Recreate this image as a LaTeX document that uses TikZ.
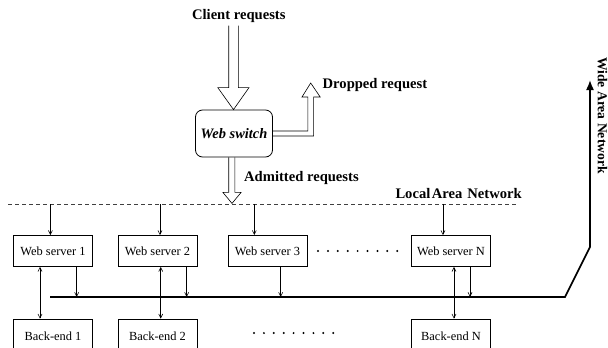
\documentclass[tikz,border=0pt]{standalone}
\usepackage{fontspec}
\setmainfont{Liberation Serif}
\usetikzlibrary{arrows.meta,calc}
\begin{document}
\begin{tikzpicture}[x=1pt,y=-1pt,
  box/.style={draw, line width=0.8pt, minimum width=79pt, minimum height=31pt, inner sep=0pt, font=\fontsize{12.4}{14}\selectfont},
  lbl/.style={font=\fontsize{14.6}{16}\selectfont\bfseries, inner sep=0pt},
  thinline/.style={line width=0.6pt},
  sarr/.style={thinline, -{Straight Barb[length=4pt,width=4pt]}},
  darr/.style={thinline, {Straight Barb[length=4pt,width=4pt]}-{Straight Barb[length=4pt,width=4pt]}},
  blk/.style={line width=0.6pt, line join=miter},
]
\useasboundingbox (0,0) rectangle (608,348);
\clip (0,0) rectangle (608,348);

% labels
\node[lbl] (client) at (238.8,16) {Client requests};
\node[lbl, anchor=west] (drop) at (322.5,85) {Dropped request};
\node[lbl, anchor=west] (adm) at (244,178) {Admitted requests};
\node[lbl, anchor=west] (lan) at (395.3,194) {Local\hspace{1.5pt}Area\hspace{5pt}Network};
\node[lbl, font=\fontsize{13.6}{16}\selectfont\bfseries, rotate=-90, anchor=west] (wanlbl) at (602.5,57) {Wide Area Network};

% web switch
\node[draw, rounded corners=7pt, line width=0.8pt, minimum width=77pt, minimum height=47pt, inner sep=0pt,
      font=\fontsize{14.4}{16}\selectfont\bfseries\itshape] (sw) at (234,133.5) {Web switch};

% client block arrow
\draw[blk] ($(sw.north)+(-5.3,-84)$) -- ++(0,62) -- ++(-10.9,0) -- ($(sw.north)+(-0.5,0)$)
  -- ($(sw.north)+(15,-22)$) -- ++(-10.6,0) -- ++(0,-62);

% dropped block arrow
\coordinate (droptip) at ($(sw.east)+(37.8,-50.5)$);
\draw[blk] ($(sw.east)+(0,2.5)$) -- ($(sw.east)+(40.7,2.5)$) -- ($(sw.east)+(40.7,-36.5)$)
  -- ($(sw.east)+(47.3,-36.5)$) -- (droptip) -- ($(sw.east)+(29.1,-36.5)$)
  -- ($(sw.east)+(34.9,-36.5)$) -- ($(sw.east)+(34.9,-2.5)$) -- ($(sw.east)+(0,-2.5)$);

% admitted block arrow
\draw[blk] ($(sw.south)+(-5.3,0)$) -- ++(0,35) -- ++(-5.8,0) -- ($(sw.south)+(-2,46)$)
  -- ($(sw.south)+(7.1,35)$) -- ++(-6.2,0) -- ($(sw.south)+(0.9,0)$);

% LAN dashed line
\coordinate (lanL) at (8,204);
\coordinate (lanR) at (515.5,204);
\draw[thinline, black!75, dash pattern=on 4pt off 3pt] (lanL) -- (lanR);

% servers
\node[box] (s1) at (53,251) {Web server 1};
\node[box] (s2) at (157.5,251) {Web server 2};
\node[box] (s3) at (267.5,251) {Web server 3};
\node[box] (sN) at (451,251) {Web server N};

% back-ends
\node[box, minimum height=35pt] (b1) at (53,336.5) {Back-end 1};
\node[box, minimum height=35pt] (b2) at (157.5,336.5) {Back-end 2};
\node[box, minimum height=35pt] (bN) at (451,336.5) {Back-end N};

% dots
\foreach \i in {0,...,8} {
  \fill (318+\i*9.9,251) circle (1.1pt);
  \fill (254+\i*9.9,333) circle (1.1pt);
}

% LAN -> servers
\draw[sarr] ([xshift=-2.6pt]s1.north |- lanL) -- ([xshift=-2.6pt]s1.north);
\draw[sarr] ([xshift=2.5pt]s2.north |- lanL) -- ([xshift=2.5pt]s2.north);
\draw[sarr] ([xshift=-13.2pt]s3.north |- lanL) -- ([xshift=-13.2pt]s3.north);
\draw[sarr] ([xshift=-8pt]sN.north |- lanL) -- ([xshift=-8pt]sN.north);

% WAN bus
\coordinate (bus0) at (50,297);
\coordinate (bus1) at (565,297);
\coordinate (bus2) at (590,247);
\coordinate (wan) at (590,80);
\draw[line width=1.6pt, line join=miter, -{Latex[length=10pt,width=8pt]}] (bus0) -- (bus1) -- (bus2) -- (wan);

% servers -> bus
\draw[sarr] ([xshift=23.7pt]s1.south) -- ([xshift=23.7pt]s1.south |- bus0);
\draw[sarr] ([xshift=29.2pt]s2.south) -- ([xshift=29.2pt]s2.south |- bus0);
\draw[sarr] ([xshift=13.2pt]s3.south) -- ([xshift=13.2pt]s3.south |- bus0);
\draw[sarr] ([xshift=19pt]sN.south) -- ([xshift=19pt]sN.south |- bus0);

% servers <-> back-ends
\draw[darr] ([xshift=-13pt]s1.south) -- ([xshift=-13pt]b1.north);
\draw[darr] ([xshift=3.2pt]s2.south) -- ([xshift=3.2pt]b2.north);
\draw[darr] ([xshift=3pt]sN.south) -- ([xshift=3pt]bN.north);
\end{tikzpicture}
\end{document}
